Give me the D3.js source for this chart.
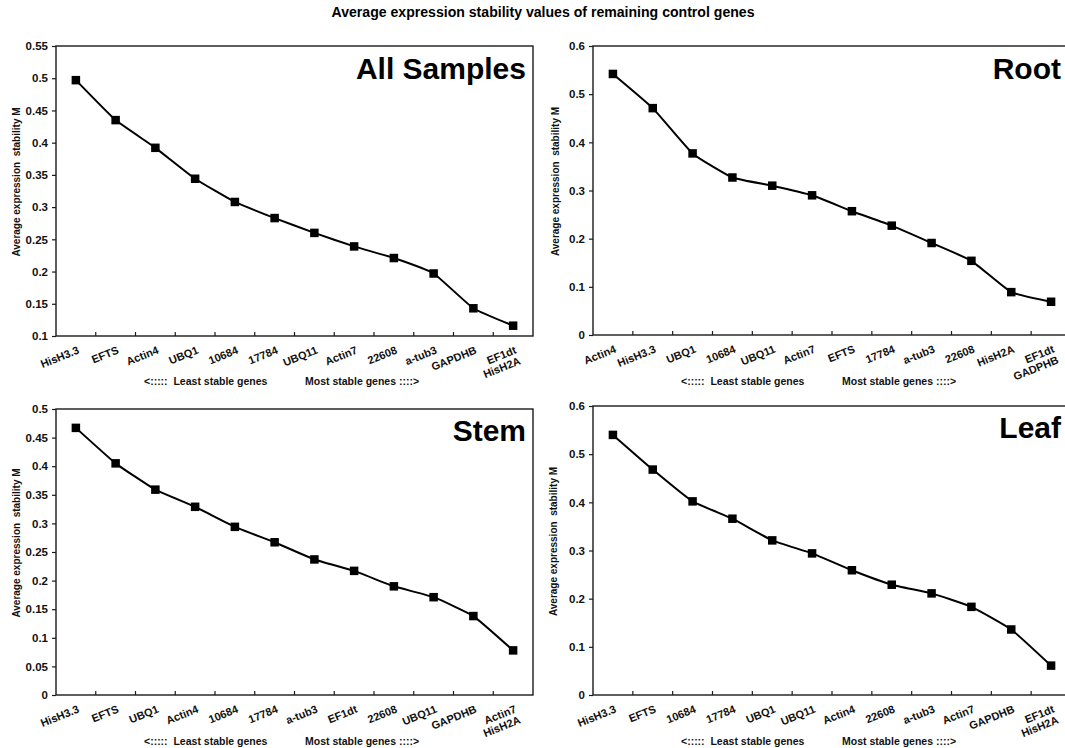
<!DOCTYPE html>
<html>
<head>
<meta charset="utf-8">
<script src="https://cdn.jsdelivr.net/npm/d3@7"></script>
<style>
  html, body { margin: 0; padding: 0; background: #fff; }
  svg { display: block; font-family: Arial, "Liberation Sans", sans-serif; }
</style>
</head>
<body>
<svg id="chart" width="1065" height="748"></svg>
<script>
// ---- Data ----
const chartTitle = "Average expression stability values of remaining control genes";
const yAxisTitle = "Average expression  stability M";
const captionLeft = "<:::::  Least stable genes";
const captionRight = "Most stable genes ::::>";

const allCats = ["HisH3.3","EFTS","Actin4","UBQ1","10684","17784","UBQ11","Actin7","22608","a-tub3","GAPDHB","EF1dt\nHisH2A"];
const allVals = [0.497, 0.435, 0.392, 0.344, 0.308, 0.283, 0.260, 0.239, 0.221, 0.197, 0.143, 0.116];
const allTicks = [0.1, 0.15, 0.2, 0.25, 0.3, 0.35, 0.4, 0.45, 0.5, 0.55];

const rootCats = ["Actin4","HisH3.3","UBQ1","10684","UBQ11","Actin7","EFTS","17784","a-tub3","22608","HisH2A","EF1dt\nGADPHB"];
const rootVals = [0.542, 0.471, 0.377, 0.327, 0.310, 0.290, 0.257, 0.227, 0.191, 0.154, 0.089, 0.069];
const rootTicks = [0, 0.1, 0.2, 0.3, 0.4, 0.5, 0.6];

const stemCats = ["HisH3.3","EFTS","UBQ1","Actin4","10684","17784","a-tub3","EF1dt","22608","UBQ11","GAPDHB","Actin7\nHisH2A"];
const stemVals = [0.467, 0.405, 0.359, 0.329, 0.294, 0.267, 0.237, 0.217, 0.190, 0.171, 0.138, 0.078];
const stemTicks = [0, 0.05, 0.1, 0.15, 0.2, 0.25, 0.3, 0.35, 0.4, 0.45, 0.5];

const leafCats = ["HisH3.3","EFTS","10684","17784","UBQ1","UBQ11","Actin4","22608","a-tub3","Actin7","GAPDHB","EF1dt\nHisH2A"];
const leafVals = [0.540, 0.468, 0.402, 0.366, 0.321, 0.294, 0.259, 0.229, 0.211, 0.183, 0.136, 0.061];
const leafTicks = [0, 0.1, 0.2, 0.3, 0.4, 0.5, 0.6];

const panelNames = ["All Samples", "Root", "Stem", "Leaf"];

// ---- Layout ----
const panels = [
  {name: panelNames[0], cats: allCats,  vals: allVals,  ticks: allTicks,  box: {l: 56,  r: 533,  t: 46,  b: 336}, ytx: 17,  capY: 385},
  {name: panelNames[1], cats: rootCats, vals: rootVals, ticks: rootTicks, box: {l: 593, r: 1071, t: 46,  b: 335}, ytx: 556, capY: 385},
  {name: panelNames[2], cats: stemCats, vals: stemVals, ticks: stemTicks, box: {l: 56,  r: 533,  t: 409, b: 695}, ytx: 17,  capY: 745},
  {name: panelNames[3], cats: leafCats, vals: leafVals, ticks: leafTicks, box: {l: 593, r: 1071, t: 406, b: 695}, ytx: 554, capY: 745}
];

const svg = d3.select("#chart");

svg.append("text")
  .attr("x", 543).attr("y", 17)
  .attr("text-anchor", "middle")
  .attr("font-size", 14.5).attr("font-weight", "bold")
  .attr("textLength", 423).attr("lengthAdjust", "spacingAndGlyphs")
  .text(chartTitle);

const fmt = d => String(+d.toFixed(2));

panels.forEach(p => {
  const {l, r, t, b} = p.box;
  const g = svg.append("g");
  const x = d3.scaleBand().domain(p.cats).range([l, r]).padding(0);
  const y = d3.scaleLinear().domain([p.ticks[0], p.ticks[p.ticks.length - 1]]).range([b, t]);
  const bw = x.bandwidth();

  // frame
  g.append("rect")
    .attr("x", l).attr("y", t).attr("width", r - l).attr("height", b - t)
    .attr("fill", "none").attr("stroke", "#1a1a1a").attr("stroke-width", 1.4);

  // y axis
  const ya = g.append("g").attr("transform", `translate(${l},0)`)
    .call(d3.axisLeft(y).tickValues(p.ticks).tickSize(4).tickPadding(4).tickFormat(fmt));
  ya.select(".domain").remove();
  ya.selectAll(".tick line").attr("stroke", "#1a1a1a").attr("stroke-width", 1.2);
  ya.selectAll(".tick text")
    .attr("font-family", "Arial, 'Liberation Sans', sans-serif")
    .attr("font-size", 11.5).attr("font-weight", "bold").attr("fill", "#111");

  // x ticks at band boundaries (inward)
  const bounds = d3.range(1, p.cats.length).map(i => x(p.cats[i]));
  g.selectAll(".xtick").data(bounds).enter().append("line")
    .attr("x1", d => d).attr("x2", d => d)
    .attr("y1", b).attr("y2", b - 4)
    .attr("stroke", "#1a1a1a").attr("stroke-width", 1.2);

  // x labels
  const lab = g.selectAll(".xlab").data(p.cats).enter().append("text")
    .attr("transform", d => `translate(${x(d) + bw / 2 + 4},${b + 17}) rotate(-22)`)
    .attr("text-anchor", "end")
    .attr("font-size", 11).attr("font-weight", "bold").attr("fill", "#111");
  lab.each(function(d) {
    const lines = d.split("\n");
    const sel = d3.select(this);
    lines.forEach((ln, i) => {
      sel.append("tspan").attr("x", 0).attr("dy", i === 0 ? 0 : "1.05em").text(ln);
    });
  });

  // line
  const pts = p.cats.map((c, i) => [x(c) + bw / 2, y(p.vals[i])]);
  g.append("path")
    .attr("d", d3.line().curve(d3.curveCardinal.tension(0.6))(pts))
    .attr("fill", "none").attr("stroke", "#000").attr("stroke-width", 2);

  // markers
  const ms = 8.5;
  g.selectAll(".mk").data(pts).enter().append("rect")
    .attr("x", d => d[0] - ms / 2).attr("y", d => d[1] - ms / 2)
    .attr("width", ms).attr("height", ms).attr("fill", "#000");

  // panel label
  g.append("text")
    .attr("x", r - (l > 300 ? 10 : 7)).attr("y", t + (t < 100 ? 33 : 32))
    .attr("text-anchor", "end")
    .attr("font-size", 30).attr("font-weight", "bold").attr("fill", "#000")
    .text(p.name);

  // y axis title
  const cy = (t + b) / 2 - 9;
  g.append("text")
    .attr("transform", `translate(${p.ytx},${cy}) rotate(-90)`)
    .attr("text-anchor", "middle").attr("dominant-baseline", "middle")
    .attr("font-size", 10).attr("font-weight", "bold").attr("fill", "#111")
    .attr("xml:space", "preserve")
    .text(yAxisTitle);

  // captions
  g.append("text")
    .attr("x", l + 88).attr("y", p.capY)
    .attr("font-size", 10.5).attr("font-weight", "bold").attr("fill", "#111")
    .attr("xml:space", "preserve")
    .text(captionLeft);
  g.append("text")
    .attr("x", l + 249).attr("y", p.capY)
    .attr("font-size", 10.5).attr("font-weight", "bold").attr("fill", "#111")
    .text(captionRight);
});
</script>
</body>
</html>
